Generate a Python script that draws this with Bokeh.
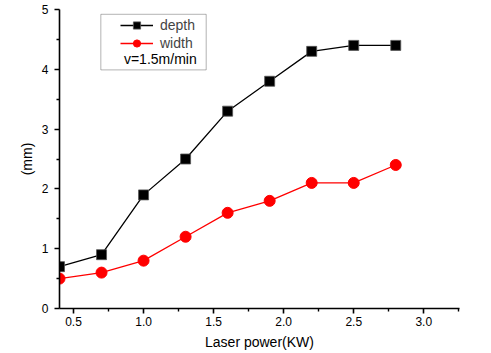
from bokeh.plotting import figure
from bokeh.models import (Legend, LegendItem, FixedTicker, PrintfTickFormatter,
                          BoxAnnotation, Label, Range1d, AllLabels)
from bokeh.embed import file_html
from bokeh.resources import INLINE

power = [0.4, 0.7, 1.0, 1.3, 1.6, 1.9, 2.2, 2.5, 2.8]
depth = [0.7, 0.9, 1.9, 2.5, 3.3, 3.8, 4.3, 4.4, 4.4]
width = [0.5, 0.6, 0.8, 1.2, 1.6, 1.8, 2.1, 2.1, 2.4]
x_ticks = [0.5, 1.0, 1.5, 2.0, 2.5, 3.0]
x_minor = [0.75, 1.25, 1.75, 2.25, 2.75, 3.25]
y_ticks = [0, 1, 2, 3, 4, 5]
y_minor = [0.5, 1.5, 2.5, 3.5, 4.5]

FONT = "Liberation Sans"

p = figure(width=491, height=353, output_backend="svg", toolbar_location=None,
           x_range=Range1d(0.4, 3.255), y_range=Range1d(0, 5),
           min_border_left=59, min_border_right=32, min_border_top=9,
           min_border_bottom=45)
p.outline_line_color = None
p.grid.visible = False
p.background_fill_color = "white"
p.border_fill_color = "white"

r1 = p.line(power, depth, line_color="black", line_width=1.3)
s1 = p.scatter(power, depth, marker="square", size=10, fill_color="black",
               line_color="#555555", line_width=0.8)
r2 = p.line(power, width, line_color="red", line_width=1.3)
s2 = p.scatter(power, width, marker="circle", size=11, fill_color="red",
               line_color="red")

for ax in (p.xaxis[0], p.yaxis[0]):
    ax.axis_line_width = 1.6
    ax.major_tick_line_width = 1.6
    ax.minor_tick_line_width = 1.4
    ax.major_tick_in = 0
    ax.major_tick_out = 5
    ax.minor_tick_in = 0
    ax.minor_tick_out = 3
    ax.major_label_text_font = FONT
    ax.major_label_text_font_size = "12px"
    ax.major_label_text_color = "black"
    ax.axis_label_text_font = FONT
    ax.axis_label_text_font_size = "14px"
    ax.axis_label_text_font_style = "normal"
    ax.axis_label_text_color = "black"
    ax.major_label_policy = AllLabels()

p.xaxis.ticker = FixedTicker(ticks=x_ticks, minor_ticks=x_minor)
p.xaxis.formatter = PrintfTickFormatter(format="%.1f")
p.yaxis.ticker = FixedTicker(ticks=y_ticks, minor_ticks=y_minor)
p.xaxis.axis_label = "Laser power(KW)"
p.yaxis.axis_label = "(mm)"
p.xaxis.major_label_standoff = 3
p.xaxis.axis_label_standoff = 5
p.yaxis.major_label_standoff = 6
p.yaxis.axis_label_standoff = 4

box = BoxAnnotation(left=0.695, right=1.447, top=4.92, bottom=3.99,
                    fill_color="white", fill_alpha=1.0,
                    line_color="black", line_width=1.0)
p.add_layout(box)

legend = Legend(items=[LegendItem(label="depth", renderers=[r1, s1]),
                       LegendItem(label="width", renderers=[r2, s2])],
                location=(61, 256), padding=0, margin=0, spacing=0,
                glyph_width=33, glyph_height=18, label_height=18,
                label_standoff=7,
                label_text_font=FONT, label_text_font_size="14px",
                border_line_color=None, background_fill_alpha=0)
p.add_layout(legend)

note = Label(x=0.86, y=4.17, text="v=1.5m/min", text_font=FONT,
             text_font_size="14px", text_baseline="middle",
             text_align="left", text_color="black")
p.add_layout(note)

open("out.html", "w").write(file_html(p, INLINE))
